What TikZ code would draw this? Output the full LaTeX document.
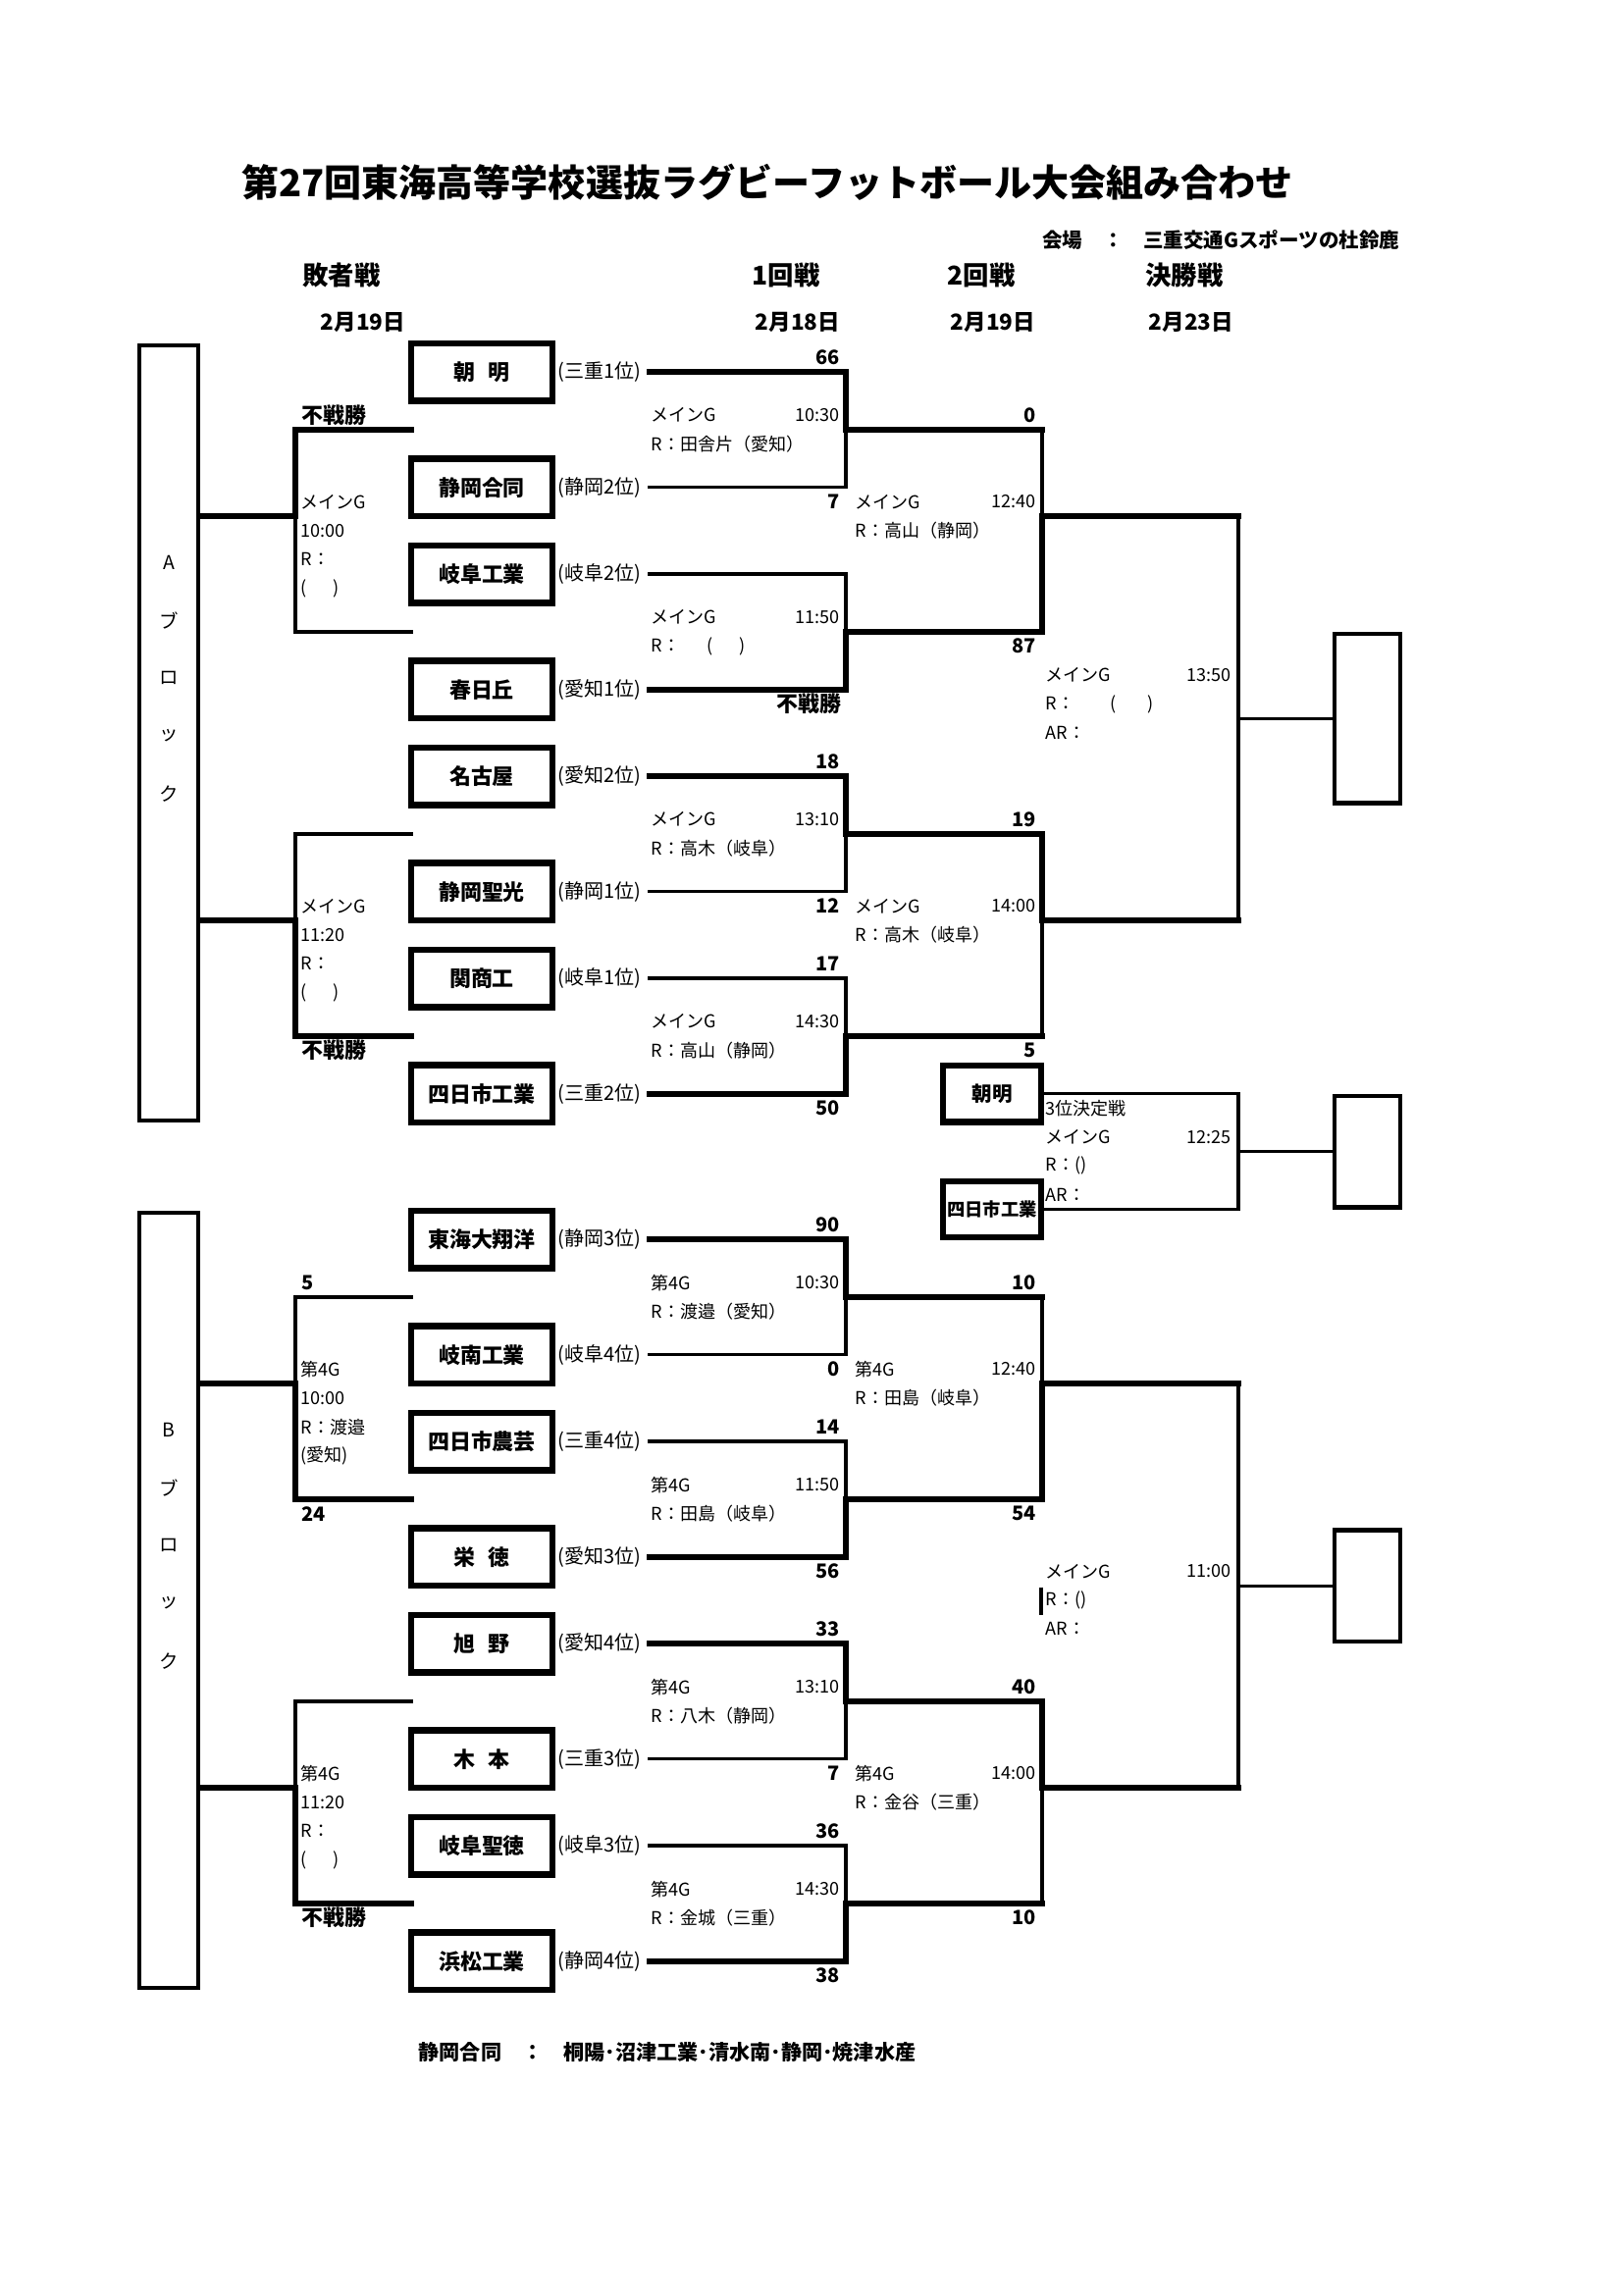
\documentclass[tikz,border=0pt]{standalone}
\usepackage{fontspec}
\setmainfont{Noto Sans CJK JP}
\newcommand{\fsz}[1]{\fontsize{#1}{#1}\selectfont}
\tikzset{
  thk/.style={line width=2.3pt, line cap=rect},
  thn/.style={line width=1.2pt, line cap=rect},
  team/.style={draw, line width=2.3pt, minimum width=51.7pt, minimum height=21.1pt, inner sep=0pt, font=\fsz{7.9pt}\bfseries},
  small/.style={draw, line width=2.3pt, minimum width=35.9pt, minimum height=20.7pt, inner sep=0pt, font=\fsz{7.4pt}\bfseries},
  seed/.style={anchor=west, inner sep=0pt, font=\fsz{7.2pt}},
  lab/.style={inner sep=0pt, font=\fsz{6.5pt}},
  scr/.style={anchor=east, inner sep=0pt, font=\fsz{7.2pt}\bfseries},
  fus/.style={inner sep=0pt, font=\fsz{7.9pt}\bfseries},
  res/.style={draw, line width=1.6pt, minimum width=24pt, inner sep=0pt},
  blk/.style={draw, line width=1.5pt, minimum width=21.5pt, minimum height=284.5pt, inner sep=0pt},
  blt/.style={inner sep=0pt, font=\fsz{7pt}},
  head/.style={inner sep=0pt, font=\fsz{9.5pt}\bfseries},
  date/.style={inner sep=0pt, font=\fsz{8.1pt}\bfseries}
}
\newcommand{\team}[4]{%
  \node[team] (#1) at (491,#2) {#3};
  \node[seed] (#1s) at (568,#2) {#4};
  \coordinate (#1e) at (662,#2);
}
\newcommand{\rone}[6]{%
  \coordinate (#3) at (862,#4);
  \draw[#5] (#1e) -| (#3);
  \draw[#6] (#2e) -| (#3);
}
\newcommand{\txw}[4]{\node[lab,anchor=west] (#1) at (#2,#3) {#4};}
\newcommand{\txe}[4]{\node[lab,anchor=east] (#1) at (#2,#3) {#4};}
\newcommand{\scor}[4]{\node[scr] (#1) at (#2,#3) {#4};}
\begin{document}
\begin{tikzpicture}[x=0.36pt,y=-0.36pt]
\fill[white] (0,0) rectangle (1654,2339);
\useasboundingbox (0,0) rectangle (1654,2339);

% ---------- headings ----------
\node[inner sep=0pt, font=\fsz{13.7pt}\bfseries] (title) at (782,186) {第27回東海高等学校選抜ラグビーフットボール大会組み合わせ};
\node[inner sep=0pt, anchor=east, font=\fsz{7.4pt}\bfseries] (venue) at (1427,245) {会場　：　三重交通Gスポーツの杜鈴鹿};
\node[head] (h1) at (348,280) {敗者戦};
\node[head] (h2) at (801,280) {1回戦};
\node[head] (h3) at (1000,280) {2回戦};
\node[head] (h4) at (1207,280) {決勝戦};
\node[date] (d1) at (370,328) {2月19日};
\node[date] (d2) at (813,328) {2月18日};
\node[date] (d3) at (1012,328) {2月19日};
\node[date] (d4) at (1214,328) {2月23日};
\node[inner sep=0pt, font=\fsz{7.6pt}\bfseries] (foot) at (680,2091) {静岡合同　：　桐陽･沼津工業･清水南･静岡･焼津水産};

% ---------- A block ----------
\begin{scope}[shift={(0,379)},y=-10.5948pt]
\node[blk] (aBlk) at (172,12.5) {};
\node[blt] (aK1) at (172,6.6) {A};
\node[blt] (aK2) at (172,8.6) {ブ};
\node[blt] (aK3) at (172,10.6) {ロ};
\node[blt] (aK4) at (172,12.6) {ッ};
\node[blt] (aK5) at (172,14.6) {ク};

\team{a1}{0}{朝\hspace{0.6em}明}{(三重1位)}
\team{a2}{4}{静岡合同}{(静岡2位)}
\team{a3}{7}{岐阜工業}{(岐阜2位)}
\team{a4}{11}{春日丘}{(愛知1位)}
\team{a5}{14}{名古屋}{(愛知2位)}
\team{a6}{18}{静岡聖光}{(静岡1位)}
\team{a7}{21}{関商工}{(岐阜1位)}
\team{a8}{25}{四日市工業}{(三重2位)}

\rone{a1}{a2}{aM1}{2}{thk}{thn}
\rone{a3}{a4}{aM2}{9}{thn}{thk}
\rone{a5}{a6}{aM3}{16}{thk}{thn}
\rone{a7}{a8}{aM4}{23}{thn}{thk}

\coordinate (aQ1) at (1062,5);
\coordinate (aQ2) at (1062,19);
\draw[thk] (aM1) -- (aM1 -| aQ1);
\draw[thn] (aM1 -| aQ1) -- (aQ1);
\draw[thk] (aM2) -| (aQ1);
\draw[thk] (aM3) -| (aQ2);
\draw[thk] (aM4) -- (aM4 -| aQ2);
\draw[thn] (aM4 -| aQ2) -- (aQ2);

\coordinate (aF) at (1262,12);
\draw[thk] (aQ1) -- (aQ1 -| aF);
\draw[thk] (aQ2) -- (aQ2 -| aF);
\draw[thn] (aQ1 -| aF) -- (aQ2 -| aF);
\node[res, minimum height=62pt] (aW) at (1393.5,12) {};
\draw[thn] (aF) -- (aW);

% third place
\node[small] (aS1) at (1011,25) {朝明};
\node[small, font=\fsz{6.6pt}\bfseries] (aS2) at (1011,29) {四日市工業};
\coordinate (aP) at (1262,27);
\draw[thn] (aS1) -| (aP);
\draw[thn] (aS2) -| (aP);
\node[res, minimum height=40.8pt] (aW3) at (1393.5,27) {};
\draw[thn] (aP) -- (aW3);

% losers bracket
\coordinate (aL1t) at (419,2);
\coordinate (aL1b) at (419,9);
\coordinate (aL1) at (301,5);
\draw[thk] (aL1t) -| (aL1);
\draw[thn] (aL1b) -| (aL1);
\draw[thk] (aL1) -- (aL1 -| aBlk.east);
\coordinate (aL2t) at (419,16);
\coordinate (aL2b) at (419,23);
\coordinate (aL2) at (301,19);
\draw[thn] (aL2t) -| (aL2);
\draw[thk] (aL2b) -| (aL2);
\draw[thk] (aL2) -- (aL2 -| aBlk.east);

% scores
\scor{aP1}{856}{-0.5}{66}
\scor{aP2}{856}{4.5}{7}
\node[fus,anchor=east] (aP3) at (858,11.5) {不戦勝};
\scor{aP4}{856}{13.5}{18}
\scor{aP5}{856}{18.5}{12}
\scor{aP6}{856}{20.5}{17}
\scor{aP7}{856}{25.5}{50}
\scor{aP8}{1056}{1.5}{0}
\scor{aP9}{1056}{9.5}{87}
\scor{aP10}{1056}{15.5}{19}
\scor{aP11}{1056}{23.5}{5}
\node[fus,anchor=west] (aP12) at (307,1.5) {不戦勝};
\node[fus,anchor=west] (aP13) at (307,23.5) {不戦勝};

% match info
\txw{aI1a}{663}{1.5}{メインG}\txe{aI1b}{856}{1.5}{10:30}\txw{aI1c}{663}{2.5}{R：田舎片（愛知）}
\txw{aI2a}{663}{8.5}{メインG}\txe{aI2b}{856}{8.5}{11:50}\txw{aI2c}{663}{9.5}{R：\hspace{1.5em}(\hspace{1.5em})}
\txw{aI3a}{663}{15.5}{メインG}\txe{aI3b}{856}{15.5}{13:10}\txw{aI3c}{663}{16.5}{R：高木（岐阜）}
\txw{aI4a}{663}{22.5}{メインG}\txe{aI4b}{856}{22.5}{14:30}\txw{aI4c}{663}{23.5}{R：高山（静岡）}
\txw{aI5a}{871}{4.5}{メインG}\txe{aI5b}{1056}{4.5}{12:40}\txw{aI5c}{871}{5.5}{R：高山（静岡）}
\txw{aI6a}{871}{18.5}{メインG}\txe{aI6b}{1056}{18.5}{14:00}\txw{aI6c}{871}{19.5}{R：高木（岐阜）}
\txw{aI7a}{1065}{10.5}{メインG}\txe{aI7b}{1255}{10.5}{13:50}\txw{aI7c}{1065}{11.5}{R：\hspace{2em}(\hspace{1.8em})}\txw{aI7d}{1065}{12.5}{AR：}
\txw{aI8a}{1065}{25.5}{3位決定戦}\txw{aI8b}{1065}{26.5}{メインG}\txe{aI8c}{1255}{26.5}{12:25}\txw{aI8d}{1065}{27.5}{R：()}\txw{aI8e}{1065}{28.5}{AR：}
\txw{aI9a}{306}{4.5}{メインG}\txw{aI9b}{306}{5.5}{10:00}\txw{aI9c}{306}{6.5}{R：}\txw{aI9d}{306}{7.5}{(\hspace{1.5em})}
\txw{aI10a}{306}{18.5}{メインG}\txw{aI10b}{306}{19.5}{11:20}\txw{aI10c}{306}{20.5}{R：}\txw{aI10d}{306}{21.5}{(\hspace{1.5em})}
\end{scope}

% ---------- B block ----------
\begin{scope}[shift={(0,1263)},y=-10.5948pt]
\node[blk] (bBlk) at (172,12.5) {};
\node[blt] (bK1) at (172,6.6) {B};
\node[blt] (bK2) at (172,8.6) {ブ};
\node[blt] (bK3) at (172,10.6) {ロ};
\node[blt] (bK4) at (172,12.6) {ッ};
\node[blt] (bK5) at (172,14.6) {ク};

\team{b1}{0}{東海大翔洋}{(静岡3位)}
\team{b2}{4}{岐南工業}{(岐阜4位)}
\team{b3}{7}{四日市農芸}{(三重4位)}
\team{b4}{11}{栄\hspace{0.6em}徳}{(愛知3位)}
\team{b5}{14}{旭\hspace{0.6em}野}{(愛知4位)}
\team{b6}{18}{木\hspace{0.6em}本}{(三重3位)}
\team{b7}{21}{岐阜聖徳}{(岐阜3位)}
\team{b8}{25}{浜松工業}{(静岡4位)}

\rone{b1}{b2}{bM1}{2}{thk}{thn}
\rone{b3}{b4}{bM2}{9}{thn}{thk}
\rone{b5}{b6}{bM3}{16}{thk}{thn}
\rone{b7}{b8}{bM4}{23}{thn}{thk}

\coordinate (bQ1) at (1062,5);
\coordinate (bQ2) at (1062,19);
\draw[thk] (bM1) -- (bM1 -| bQ1);
\draw[thn] (bM1 -| bQ1) -- (bQ1);
\draw[thk] (bM2) -| (bQ1);
\draw[thk] (bM3) -| (bQ2);
\draw[thk] (bM4) -- (bM4 -| bQ2);
\draw[thn] (bM4 -| bQ2) -- (bQ2);

\coordinate (bF) at (1262,12);
\draw[thk] (bQ1) -- (bQ1 -| bF);
\draw[thk] (bQ2) -- (bQ2 -| bF);
\draw[thn] (bQ1 -| bF) -- (bQ2 -| bF);
\node[res, minimum height=40.8pt] (bW) at (1393.5,12) {};
\draw[thn] (bF) -- (bW);
\coordinate (bX1) at (1061,12.05);
\coordinate (bX2) at (1061,13);
\draw[line width=1.4pt] (bX1) -- (bX2);

% losers bracket
\coordinate (bL1t) at (419,2);
\coordinate (bL1b) at (419,9);
\coordinate (bL1) at (301,5);
\draw[thn] (bL1t) -| (bL1);
\draw[thk] (bL1b) -| (bL1);
\draw[thk] (bL1) -- (bL1 -| bBlk.east);
\coordinate (bL2t) at (419,16);
\coordinate (bL2b) at (419,23);
\coordinate (bL2) at (301,19);
\draw[thn] (bL2t) -| (bL2);
\draw[thk] (bL2b) -| (bL2);
\draw[thk] (bL2) -- (bL2 -| bBlk.east);

% scores
\scor{bP1}{856}{-0.5}{90}
\scor{bP2}{856}{4.5}{0}
\scor{bP3}{856}{6.5}{14}
\scor{bP4}{856}{11.5}{56}
\scor{bP5}{856}{13.5}{33}
\scor{bP6}{856}{18.5}{7}
\scor{bP7}{856}{20.5}{36}
\scor{bP8}{856}{25.5}{38}
\scor{bP9}{1056}{1.5}{10}
\scor{bP10}{1056}{9.5}{54}
\scor{bP11}{1056}{15.5}{40}
\scor{bP12}{1056}{23.5}{10}
\node[scr,anchor=west] (bP13) at (307,1.5) {5};
\node[scr,anchor=west] (bP14) at (307,9.5) {24};
\node[fus,anchor=west] (bP15) at (307,23.5) {不戦勝};

% match info
\txw{bI1a}{663}{1.5}{第4G}\txe{bI1b}{856}{1.5}{10:30}\txw{bI1c}{663}{2.5}{R：渡邉（愛知）}
\txw{bI2a}{663}{8.5}{第4G}\txe{bI2b}{856}{8.5}{11:50}\txw{bI2c}{663}{9.5}{R：田島（岐阜）}
\txw{bI3a}{663}{15.5}{第4G}\txe{bI3b}{856}{15.5}{13:10}\txw{bI3c}{663}{16.5}{R：八木（静岡）}
\txw{bI4a}{663}{22.5}{第4G}\txe{bI4b}{856}{22.5}{14:30}\txw{bI4c}{663}{23.5}{R：金城（三重）}
\txw{bI5a}{871}{4.5}{第4G}\txe{bI5b}{1056}{4.5}{12:40}\txw{bI5c}{871}{5.5}{R：田島（岐阜）}
\txw{bI6a}{871}{18.5}{第4G}\txe{bI6b}{1056}{18.5}{14:00}\txw{bI6c}{871}{19.5}{R：金谷（三重）}
\txw{bI7a}{1065}{11.5}{メインG}\txe{bI7b}{1255}{11.5}{11:00}\txw{bI7c}{1065}{12.5}{R：()}\txw{bI7d}{1065}{13.5}{AR：}
\txw{bI9a}{306}{4.5}{第4G}\txw{bI9b}{306}{5.5}{10:00}\txw{bI9c}{306}{6.5}{R：渡邉}\txw{bI9d}{306}{7.5}{(愛知)}
\txw{bI10a}{306}{18.5}{第4G}\txw{bI10b}{306}{19.5}{11:20}\txw{bI10c}{306}{20.5}{R：}\txw{bI10d}{306}{21.5}{(\hspace{1.5em})}
\end{scope}
\end{tikzpicture}
\end{document}
